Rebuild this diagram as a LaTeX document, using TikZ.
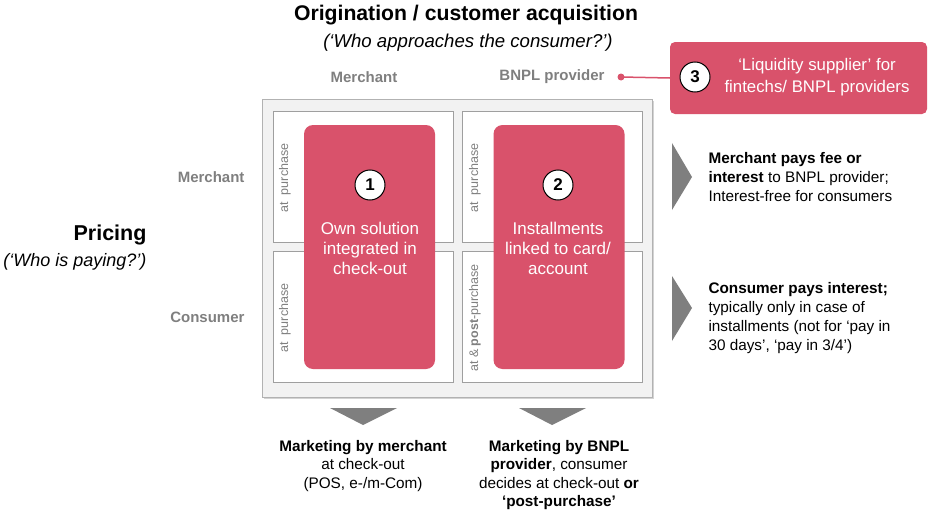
\documentclass[tikz,border=0pt]{standalone}
\usepackage{fontspec}
\setmainfont{Liberation Sans}
\usetikzlibrary{positioning,shadows}
\definecolor{bnplred}{HTML}{D9526B}
\definecolor{lblgray}{HTML}{7F7F7F}
\definecolor{boxgray}{HTML}{F2F2F2}
\begin{document}
\begin{tikzpicture}[x=1pt,y=-1pt]
\tikzset{sol/.style={fill=bnplred,rounded corners=9pt,minimum width=131pt,minimum height=244pt},
cell/.style={draw=gray!75,fill=white,line width=0.8pt,minimum width=180pt,minimum height=131pt},
num/.style={circle,draw=black,fill=white,line width=1pt,minimum size=30pt,inner sep=0pt,font=\fontsize{17}{17}\selectfont\bfseries},
soltxt/.style={text=white,align=center,font=\fontsize{17}{20}\selectfont},
lbl/.style={rotate=90,text=lblgray,font=\fontsize{12.5}{14}\selectfont},
head/.style={text=lblgray,font=\fontsize{15}{17}\selectfont\bfseries},
txt/.style={align=left,font=\fontsize{15.3}{18.8}\selectfont},
ctxt/.style={align=center,font=\fontsize{15.3}{18.3}\selectfont},
}
\useasboundingbox (0,0) rectangle (930,514);

% axes titles
\node[font=\fontsize{21.2}{24}\selectfont\bfseries] (orig) at (466,15) {Origination / customer acquisition};
\node[font=\fontsize{18.6}{21}\selectfont\itshape] (origq) at (468,43) {(‘Who approaches the consumer?’)};
\node[head] (hmerch) at (364,77) {Merchant};
\node[head] (hbnpl) at (552,77) {BNPL provider};
\node[anchor=east,font=\fontsize{21.5}{24}\selectfont\bfseries] (pricing) at (150,235) {Pricing};
\node[anchor=east,font=\fontsize{18}{21}\selectfont\itshape] (pricingq) at (150,262) {(‘Who is paying?’)};
\node[head,anchor=east] (vmerch) at (248,177) {Merchant};
\node[head,anchor=east] (vcons) at (248,317) {Consumer};

% matrix
\node[draw=gray!60,fill=boxgray,line width=1pt,minimum width=390pt,minimum height=298pt,
  drop shadow={opacity=0.35,shadow xshift=2pt,shadow yshift=-2pt}] (frame) at (457,248) {};
\node[cell] (c11) at (363,177) {};
\node[cell] (c21) at (363,317) {};
\node[cell] (c12) at (552,177) {};
\node[cell] (c22) at (552,317) {};
\node[lbl] at (285,178) {at\ \ purchase};
\node[lbl] at (285,318) {at\ \ purchase};
\node[lbl] at (475,178) {at\ \ purchase};
\node[lbl] at (475,318) {at \& \textbf{post}-purchase};

\node[sol] (sol1) at (369.5,247) {};
\node[sol] (sol2) at (559,247) {};
\node[num] (n1) at (370,185) {1};
\node[num] (n2) at (558,185) {2};
\node[soltxt] at (370,248) {Own solution\\integrated in\\check-out};
\node[soltxt] at (558,248) {Installments\\linked to card/\\account};

% liquidity supplier
\node[fill=bnplred,rounded corners=5pt,minimum width=257pt,minimum height=72pt] (sol3) at (798.5,78) {};
\node[num] (n3) at (695,77) {3};
\node[soltxt,font=\fontsize{16.8}{22}\selectfont] at (817,77) {‘Liquidity supplier’ for\\fintechs/ BNPL providers};
\coordinate (dot) at (621,77);
\fill[bnplred] (dot) circle (3.5pt);
\draw[bnplred,line width=1.5pt] (dot) -- (sol3.west);

% pricing consequences
\fill[lblgray] (672,143) -- (692,177) -- (672,210) -- cycle;
\fill[lblgray] (672,276) -- (692,308) -- (672,341) -- cycle;
\node[txt,anchor=west] (tm) at (705,177) {\textbf{Merchant pays fee or}\\\textbf{interest} to BNPL provider;\\Interest-free for consumers};
\node[txt,anchor=west] (tc) at (705,318) {\textbf{Consumer pays interest;}\\typically only in case of\\installments (not for ‘pay in\\30 days’, ‘pay in 3/4’)};

% marketing consequences
\fill[lblgray] (330,408) -- (397,408) -- (363,425) -- cycle;
\fill[lblgray] (519,408) -- (586,408) -- (552,425) -- cycle;
\node[ctxt] (bm) at (363,466) {\textbf{Marketing by merchant}\\at check-out\\(POS, e-/m-Com)};
\node[ctxt] (bb) at (559,475) {\textbf{Marketing by BNPL}\\\textbf{provider}, consumer\\decides at check-out \textbf{or}\\\textbf{‘post-purchase’}};

\end{tikzpicture}
\end{document}
